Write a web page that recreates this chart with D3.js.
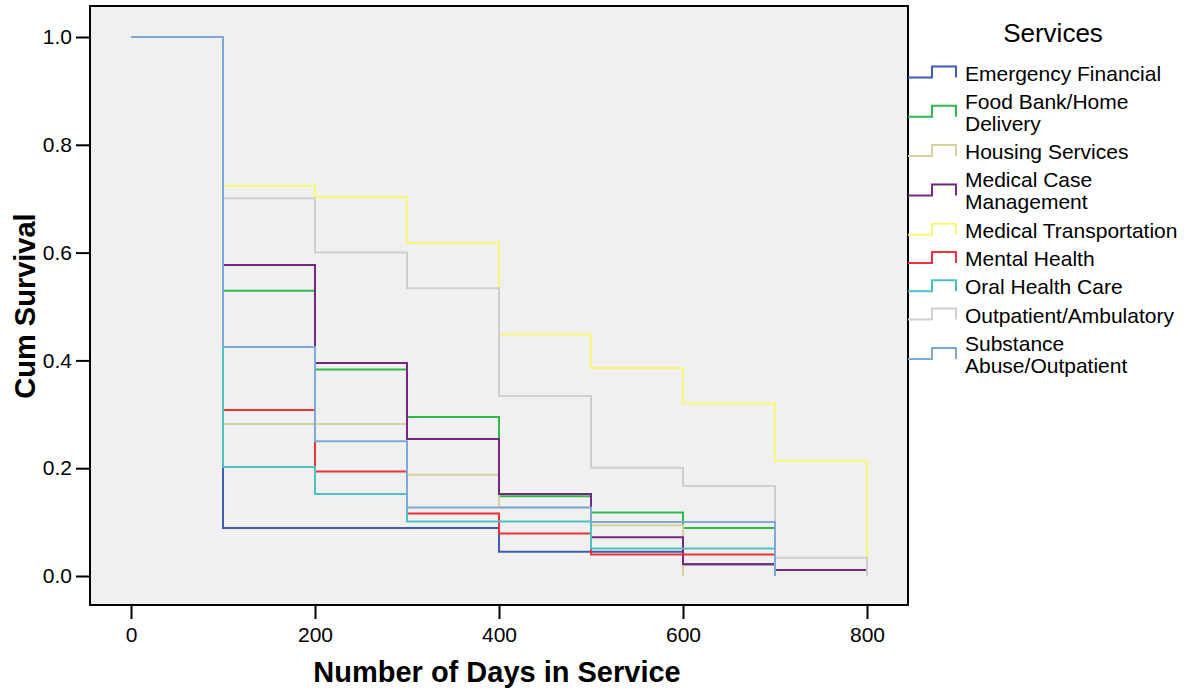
<!DOCTYPE html>
<html>
<head>
<meta charset="utf-8">
<script src="https://cdn.jsdelivr.net/npm/d3@7"></script>
<style>
  html, body { margin: 0; padding: 0; background: #ffffff; }
  svg text { font-family: "Liberation Sans", Arial, Helvetica, sans-serif; fill: #000; }
</style>
</head>
<body>
<svg id="chart" width="1186" height="694"></svg>
<script>
// ---- data ----
const times = [0, 100, 200, 300, 400, 500, 600, 700, 800];
const xTicks = [0, 200, 400, 600, 800];
const yTicks = [0.0, 0.2, 0.4, 0.6, 0.8, 1.0];

const emergencyFinancial = [1, 0.089, 0.089, 0.089, 0.045, 0.045, 0.022, 0.022];
const foodBank           = [1, 0.529, 0.383, 0.295, 0.148, 0.118, 0.089, 0.089];
const housingServices    = [1, 0.282, 0.282, 0.188, 0.127, 0.094, 0];
const medicalCase        = [1, 0.577, 0.395, 0.254, 0.152, 0.072, 0.022, 0.011, 0.011];
const medicalTransport   = [1, 0.724, 0.703, 0.618, 0.448, 0.386, 0.320, 0.214, 0];
const mentalHealth       = [1, 0.308, 0.194, 0.116, 0.079, 0.040, 0.040, 0.040];
const oralHealth         = [1, 0.202, 0.152, 0.101, 0.101, 0.051, 0.051, 0.051];
const outpatient         = [1, 0.701, 0.600, 0.534, 0.334, 0.201, 0.167, 0.034, 0];
const substanceAbuse     = [1, 0.425, 0.250, 0.127, 0.127, 0.100, 0.100, 0];

const seriesNames = [
  ["Emergency Financial"],
  ["Food Bank/Home", "Delivery"],
  ["Housing Services"],
  ["Medical Case", "Management"],
  ["Medical Transportation"],
  ["Mental Health"],
  ["Oral Health Care"],
  ["Outpatient/Ambulatory"],
  ["Substance", "Abuse/Outpatient"]
];
const seriesValues = [emergencyFinancial, foodBank, housingServices, medicalCase,
  medicalTransport, mentalHealth, oralHealth, outpatient, substanceAbuse];
const seriesColors = ["#3f5cb0", "#2fb84b", "#d6d19b", "#75287f", "#faf676",
  "#ee3239", "#4bc3c4", "#cfcfcf", "#7eaad7"];

// ---- layout ----
const svg = d3.select("#chart");
const frame = { left: 90, top: 6, right: 908, bottom: 605 };

const x = d3.scaleLinear().domain([0, 800]).range([131, 867]);
const y = d3.scaleLinear().domain([0, 1]).range([576, 37]);

svg.append("rect")
  .attr("x", frame.left).attr("y", frame.top)
  .attr("width", frame.right - frame.left).attr("height", frame.bottom - frame.top)
  .attr("fill", "#f0f0f0");

// lines
const line = d3.line()
  .x(d => x(d[0])).y(d => y(d[1]))
  .curve(d3.curveStepAfter);

const g = svg.append("g");
seriesValues.forEach((vals, i) => {
  const pts = vals.map((v, k) => [times[k], v]);
  g.append("path")
    .attr("d", line(pts))
    .attr("fill", "none")
    .attr("stroke", seriesColors[i])
    .attr("stroke-width", 2);
});

// frame border
svg.append("rect")
  .attr("x", frame.left).attr("y", frame.top)
  .attr("width", frame.right - frame.left).attr("height", frame.bottom - frame.top)
  .attr("fill", "none").attr("stroke", "#000").attr("stroke-width", 2);

// x axis
const xAxis = d3.axisBottom(x).tickValues(xTicks).tickSize(13).tickPadding(8)
  .tickFormat(d3.format("d"));
const gx = svg.append("g").attr("transform", `translate(0,${frame.bottom + 1})`).call(xAxis);
gx.select(".domain").remove();
gx.selectAll("line").attr("stroke", "#000").attr("stroke-width", 2);
gx.selectAll("text").attr("font-size", 21).attr("font-family", "Liberation Sans, Arial, sans-serif").attr("dy", "0.71em");

// y axis
const yAxis = d3.axisLeft(y).tickValues(yTicks).tickSize(13).tickPadding(4)
  .tickFormat(d3.format(".1f"));
const gy = svg.append("g").attr("transform", `translate(${frame.left - 1},0)`).call(yAxis);
gy.select(".domain").remove();
gy.selectAll("line").attr("stroke", "#000").attr("stroke-width", 2);
gy.selectAll("text").attr("font-size", 21).attr("font-family", "Liberation Sans, Arial, sans-serif");

// axis titles
svg.append("text")
  .attr("x", 497).attr("y", 682)
  .attr("text-anchor", "middle")
  .attr("font-size", 29).attr("font-weight", "bold")
  .text("Number of Days in Service");

svg.append("text")
  .attr("transform", "translate(35,306) rotate(-90)")
  .attr("text-anchor", "middle")
  .attr("font-size", 29).attr("font-weight", "bold")
  .text("Cum Survival");

// legend
svg.append("text")
  .attr("x", 1053).attr("y", 42)
  .attr("text-anchor", "middle")
  .attr("font-size", 26)
  .text("Services");

let cy = 73;
const lineGap = 22, rowGap = 28.3;
seriesNames.forEach((lines, i) => {
  const mid = cy + (lines.length - 1) * lineGap / 2;
  const lower = mid + 4.5, upper = mid - 6.5;
  svg.append("path")
    .attr("d", `M908,${lower}H932V${upper}H956V${lower}`)
    .attr("fill", "none")
    .attr("stroke", seriesColors[i])
    .attr("stroke-width", 2);
  lines.forEach((t, k) => {
    svg.append("text")
      .attr("x", 965).attr("y", cy + k * lineGap + 7.5)
      .attr("font-size", 21)
      .text(t);
  });
  cy += (lines.length - 1) * lineGap + rowGap;
});
</script>
</body>
</html>
